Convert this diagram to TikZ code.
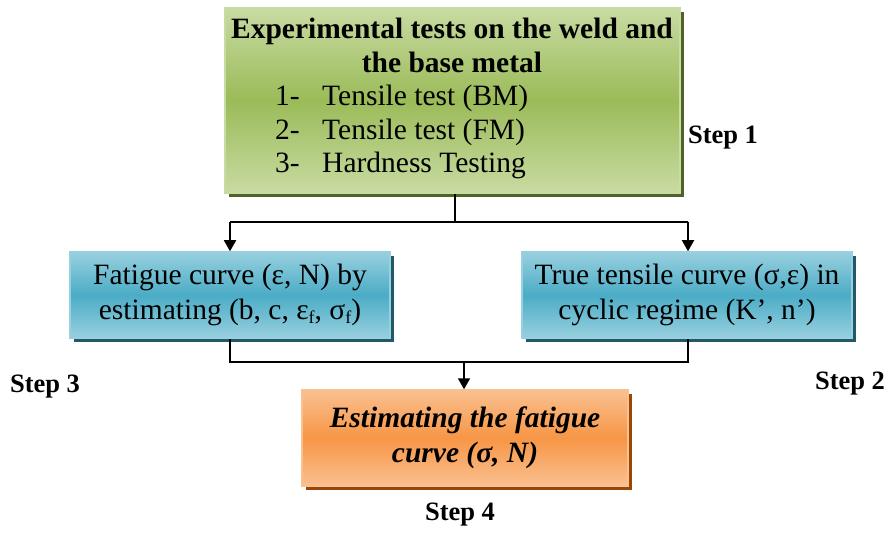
\documentclass[tikz,border=0pt]{standalone}
\usepackage{fontspec}
\setmainfont{Liberation Serif}
\usetikzlibrary{arrows.meta,shadows}
\definecolor{gmid}{HTML}{9BBB59}
\definecolor{gedge}{HTML}{C8DBA2}
\definecolor{gdark}{HTML}{4F6228}
\definecolor{bmid}{HTML}{4BACC6}
\definecolor{bedge}{HTML}{98D0DF}
\definecolor{bdark}{HTML}{215968}
\definecolor{omid}{HTML}{F79646}
\definecolor{oedge}{HTML}{FAC090}
\definecolor{odark}{HTML}{974706}
\newcommand{\sbf}[1]{{\fontsize{18}{18}\selectfont\raisebox{-4pt}{#1}}}
\begin{document}
\begin{tikzpicture}[x=1pt,y=1pt,
  box/.style={draw, line width=1.5pt, inner sep=0pt, align=center,
    font=\fontsize{29.5}{35}\selectfont},
  greenbox/.style={box, draw=gedge, top color=gedge, bottom color=gedge, middle color=gmid,
    drop shadow={shadow xshift=4pt, shadow yshift=-4pt, fill=gdark, opacity=1}},
  bluebox/.style={box, draw=bedge, top color=bedge, bottom color=bedge, middle color=bmid,
    drop shadow={shadow xshift=4pt, shadow yshift=-4pt, fill=bdark, opacity=1}},
  orangebox/.style={box, draw=oedge, top color=oedge, bottom color=oedge, middle color=omid,
    drop shadow={shadow xshift=4pt, shadow yshift=-4pt, fill=odark, opacity=1}},
  txt/.style={font=\fontsize{29.5}{34}\selectfont, inner sep=0pt, anchor=base west},
  steplbl/.style={font=\bfseries\fontsize{26.5}{30}\selectfont, inner sep=0pt},
  conn/.style={line width=1.8pt},
  arr/.style={conn, -{Triangle[width=12pt,length=11pt]}}
]
\useasboundingbox (0,0) rectangle (888,-534);

% boxes
\node[greenbox, minimum width=455pt, minimum height=185pt] (g) at (452.5,-100.5) {};
\node[bluebox, minimum width=320pt, minimum height=86pt] (l) at (230,-295)
  {Fatigue curve (ε, N) by\\estimating (b, c, ε\sbf{f}, σ\sbf{f})};
\node[bluebox, minimum width=330pt, minimum height=86pt] (r) at (687,-295)
  {True tensile curve (σ,ε) in\\cyclic regime (K’, n’)};
\node[orangebox, minimum width=326pt, minimum height=96pt] (o) at (465,-438)
  {\bfseries\itshape Estimating the fatigue\\\bfseries\itshape curve (σ, N)};

% green box text
\node[font=\bfseries\fontsize{29.5}{34}\selectfont, align=center, inner sep=0pt] (gt) at (452,-45)
  {Experimental tests on the weld and\\the base metal};
\node[txt] (n1) at (275,-106) {1-};
\node[txt] (t1) at (322,-106) {Tensile test (BM)};
\node[txt] (n2) at (275,-140) {2-};
\node[txt] (t2) at (322,-140) {Tensile test (FM)};
\node[txt] (n3) at (275,-173) {3-};
\node[txt] (t3) at (322,-173) {Hardness Testing};

% connectors
\coordinate (s) at (455,-222);
\coordinate (sl) at (230,-222);
\coordinate (sr) at (688,-222);
\draw[conn] (g.south -| s) -- (s);
\draw[conn] (sl) -- (sr);
\draw[arr] (sl) -- (l.north);
\draw[arr] (sr) -- (r.north -| sr);
\coordinate (jl) at (230,-362);
\coordinate (jr) at (688,-362);
\coordinate (jm) at (464,-362);
\draw[conn] (l.south) -- (jl) -- (jr) -- (r.south -| jr);
\draw[arr] (jm) -- (o.north -| jm);

% step labels
\node[steplbl] (s1) at (723,-138) {Step 1};
\node[steplbl] (s3) at (45,-387) {Step 3};
\node[steplbl] (s2) at (850,-384) {Step 2};
\node[steplbl] (s4) at (460,-515) {Step 4};
\end{tikzpicture}
\end{document}
